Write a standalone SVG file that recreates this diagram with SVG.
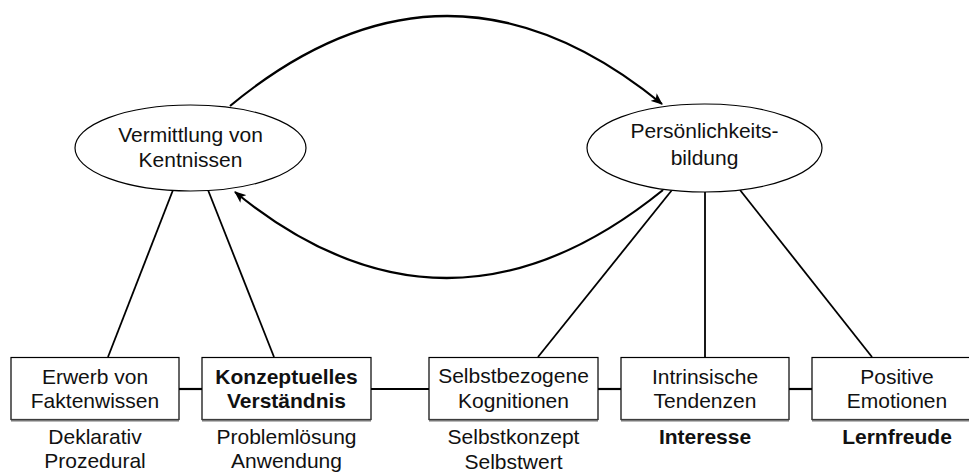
<svg xmlns="http://www.w3.org/2000/svg" width="969" height="472" viewBox="0 0 969 472">
<style>
  text { font-family: "Liberation Sans", Arial, Helvetica, sans-serif; font-size: 21px; fill: #111; text-anchor: middle; }
  .b { font-weight: bold; }
  .node { fill: #fff; stroke: #000; stroke-width: 1.2; }
  .shadow { stroke: #777; stroke-width: 2; }
  .link { stroke: #000; stroke-width: 1.8; fill: none; }
  .hlink { stroke: #000; stroke-width: 2.2; fill: none; }
  .arc { stroke: #000; stroke-width: 2.2; fill: none; marker-end: url(#arrow); }
</style>
<defs>
  <marker id="arrow" viewBox="0 0 12 10" refX="11" refY="5" markerWidth="12" markerHeight="10" markerUnits="userSpaceOnUse" orient="auto">
    <path d="M0,0 L12,5 L0,10 L3,5 Z" fill="#000"/>
  </marker>
</defs>
<rect width="969" height="472" fill="#fff"/>
<g id="connectors">
  <path class="arc" d="M230,106 Q446,-73 662,104"/>
  <path class="arc" d="M663,190 Q447,365 235,192"/>
  <line class="link" x1="173" y1="190" x2="108" y2="357"/>
  <line class="link" x1="208" y1="190" x2="274" y2="357"/>
  <line class="link" x1="672" y1="190" x2="538" y2="357"/>
  <line class="link" x1="705" y1="192" x2="705" y2="357"/>
  <line class="link" x1="740" y1="190" x2="872" y2="357"/>
  <line class="hlink" x1="179" y1="389" x2="202" y2="389"/>
  <line class="hlink" x1="371" y1="389" x2="429" y2="389"/>
  <line class="hlink" x1="598" y1="389" x2="621" y2="389"/>
  <line class="hlink" x1="789" y1="389" x2="812" y2="389"/>
</g>
<g id="vermittlung">
  <ellipse class="node" cx="190.5" cy="148" rx="115.5" ry="43"/>
  <text x="190.5" y="142">Vermittlung von</text>
  <text x="190.5" y="167">Kentnissen</text>
</g>
<g id="persoenlichkeit">
  <ellipse class="node" cx="704.5" cy="148" rx="117.5" ry="44"/>
  <text x="704.5" y="138">Persönlichkeits-</text>
  <text x="704.5" y="165">bildung</text>
</g>
<g id="erwerb">
  <rect class="node" x="11" y="357.5" width="168" height="62"/>
  <line class="shadow" x1="11" y1="420.5" x2="179" y2="420.5"/>
  <text x="95" y="384">Erwerb von</text>
  <text x="95" y="408">Faktenwissen</text>
  <text x="95" y="444">Deklarativ</text>
  <text x="95" y="468">Prozedural</text>
</g>
<g id="konzeptuell">
  <rect class="node" x="202" y="357.5" width="169" height="62"/>
  <line class="shadow" x1="202" y1="420.5" x2="371" y2="420.5"/>
  <text class="b" x="286.5" y="384">Konzeptuelles</text>
  <text class="b" x="286.5" y="408">Verständnis</text>
  <text x="286.5" y="444">Problemlösung</text>
  <text x="286.5" y="468">Anwendung</text>
</g>
<g id="selbstbezogen">
  <rect class="node" x="429" y="357.5" width="169" height="62"/>
  <line class="shadow" x1="429" y1="420.5" x2="598" y2="420.5"/>
  <text x="513.5" y="383">Selbstbezogene</text>
  <text x="513.5" y="408">Kognitionen</text>
  <text x="513.5" y="444">Selbstkonzept</text>
  <text x="513.5" y="469">Selbstwert</text>
</g>
<g id="intrinsisch">
  <rect class="node" x="621" y="357.5" width="168" height="62"/>
  <line class="shadow" x1="621" y1="420.5" x2="789" y2="420.5"/>
  <text x="705" y="384">Intrinsische</text>
  <text x="705" y="408">Tendenzen</text>
  <text class="b" x="705" y="444">Interesse</text>
</g>
<g id="positiv">
  <rect class="node" x="812" y="357.5" width="170" height="62"/>
  <line class="shadow" x1="812" y1="420.5" x2="982" y2="420.5"/>
  <text x="897" y="384">Positive</text>
  <text x="897" y="408">Emotionen</text>
  <text class="b" x="897" y="444">Lernfreude</text>
</g>
</svg>
